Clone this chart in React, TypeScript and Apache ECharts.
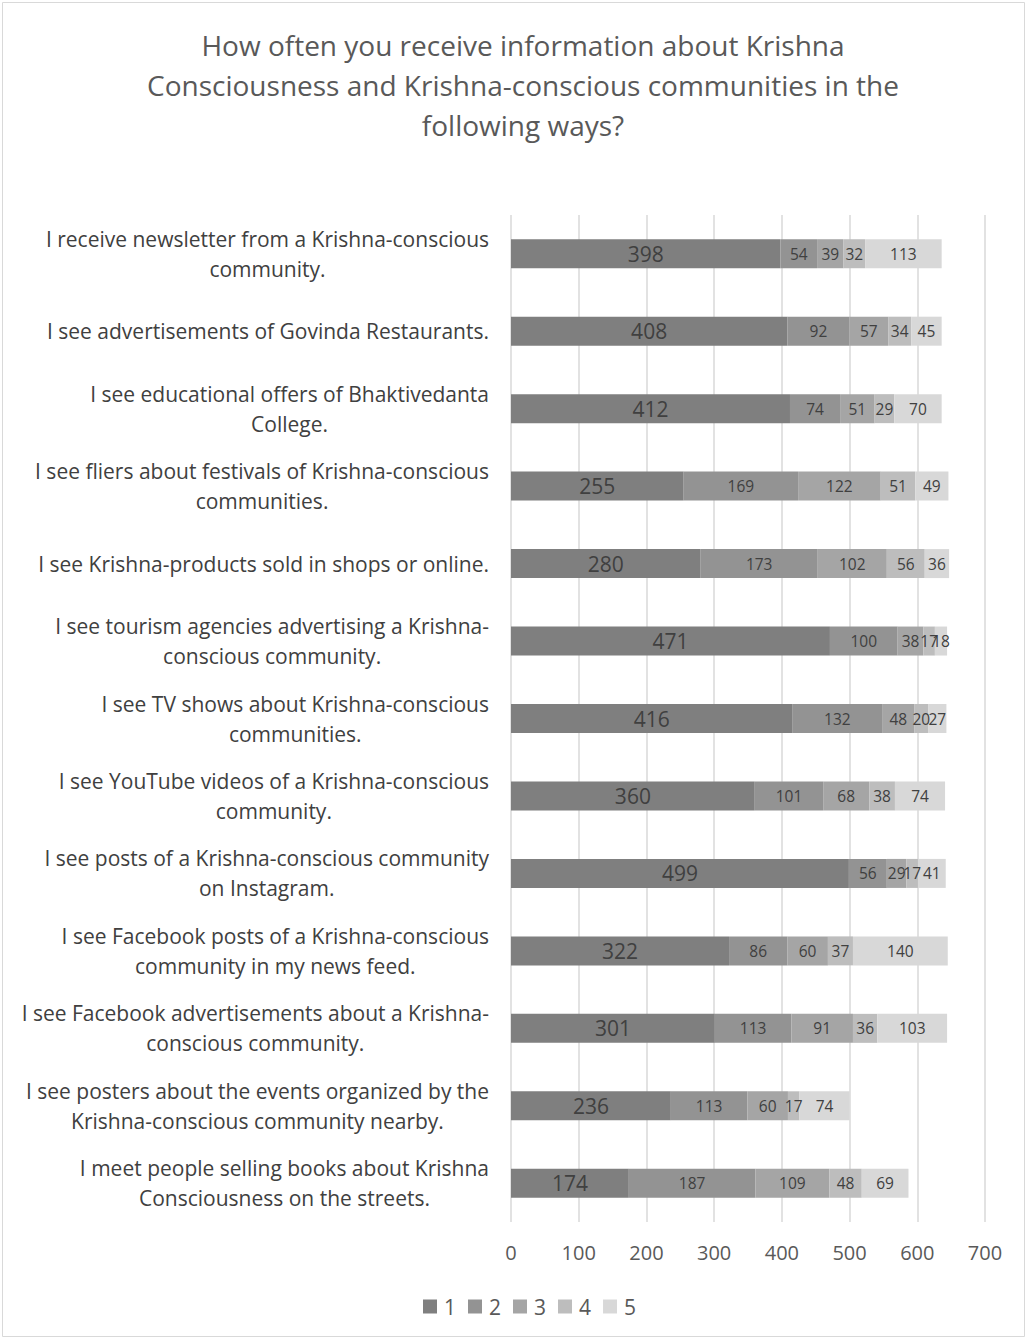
import React, { useEffect, useRef } from "react";
import * as echarts from "echarts";

const categories = [
  "I receive newsletter from a Krishna-conscious\ncommunity.",
  "I see advertisements of Govinda Restaurants.",
  "I see educational offers of Bhaktivedanta\nCollege.",
  "I see fliers about festivals of Krishna-conscious\ncommunities.",
  "I see Krishna-products sold in shops or online.",
  "I see tourism agencies advertising a Krishna-\nconscious community.",
  "I see TV shows about Krishna-conscious\ncommunities.",
  "I see YouTube videos of a Krishna-conscious\ncommunity.",
  "I see posts of a Krishna-conscious community\non Instagram.",
  "I see Facebook posts of a Krishna-conscious\ncommunity in my news feed.",
  "I see Facebook advertisements about a Krishna-\nconscious community.",
  "I see posters about the events organized by the\nKrishna-conscious community nearby.",
  "I meet people selling books about Krishna\nConsciousness on the streets.",
];

const series1 = [398, 408, 412, 255, 280, 471, 416, 360, 499, 322, 301, 236, 174];
const series2 = [54, 92, 74, 169, 173, 100, 132, 101, 56, 86, 113, 113, 187];
const series3 = [39, 57, 51, 122, 102, 38, 48, 68, 29, 60, 91, 60, 109];
const series4 = [32, 34, 29, 51, 56, 17, 20, 38, 17, 37, 36, 17, 48];
const series5 = [113, 45, 70, 49, 36, 18, 27, 74, 41, 140, 103, 74, 69];

const seriesNames = ["1", "2", "3", "4", "5"];
const seriesColors = ["#7f7f7f", "#939393", "#a5a5a5", "#bdbdbd", "#d8d8d8"];
const titleText =
  "How often you receive information about Krishna\nConsciousness and Krishna-conscious communities in the\nfollowing ways?";

const FONT = "Open Sans, Noto Sans, sans-serif";

export default function App() {
  const ref = useRef<HTMLDivElement>(null);
  useEffect(() => {
    document.body.style.margin = "0";
    const chart = echarts.init(ref.current!, null, { renderer: "svg" });
    const data = [series1, series2, series3, series4, series5];
    chart.setOption({
      animation: false,
      backgroundColor: "#ffffff",
      textStyle: { fontFamily: FONT },
      title: {
        text: titleText,
        left: 518,
        textAlign: "center",
        top: 20,
        textStyle: {
          fontSize: 28,
          fontWeight: "normal",
          color: "#595959",
          lineHeight: 40,
          fontFamily: FONT,
        },
      },
      graphic: [
        {
          type: "rect",
          shape: { x: 2.5, y: 2.5, width: 1022, height: 1334 },
          style: { fill: "none", stroke: "#d9d9d9", lineWidth: 1 },
          silent: true,
        },
      ],
      legend: {
        bottom: 18,
        left: 418,
        itemWidth: 14,
        itemHeight: 14,
        itemGap: 12,
        icon: "rect",
        textStyle: { fontSize: 21, color: "#595959", padding: [0, 0, 0, 2] },
        data: seriesNames,
      },
      grid: { left: 511, right: 44, top: 215, bottom: 118, containLabel: false },
      xAxis: {
        type: "value",
        min: 0,
        max: 700,
        interval: 100,
        axisLine: { show: false },
        axisTick: { show: false },
        splitLine: { lineStyle: { color: "#d9d9d9", width: 1.5 } },
        axisLabel: { fontSize: 20, color: "#595959", margin: 20 },
      },
      yAxis: {
        type: "category",
        inverse: true,
        data: categories,
        axisLine: { show: false },
        axisTick: { show: false },
        axisLabel: {
          fontSize: 21,
          color: "#404040",
          lineHeight: 30,
          margin: 22,
          align: "right",
          formatter: (v: string) =>
            v
              .split("\n")
              .map((s) => `{c|${s}}`)
              .join("\n"),
          rich: {
            c: {
              align: "center",
              fontSize: 21,
              color: "#404040",
              lineHeight: 30,
              fontFamily: FONT,
            },
          },
        },
      },
      series: data.map((d, i) => ({
        name: seriesNames[i],
        type: "bar",
        stack: "total",
        data: d,
        barWidth: 29,
        itemStyle: { color: seriesColors[i] },
        label: {
          show: true,
          position: "inside",
          fontSize: i === 0 ? 21 : 15.5,
          color: "#404040",
        },
      })),
    });
    return () => chart.dispose();
  }, []);
  return <div ref={ref} style={{ width: 1029, height: 1340 }} />;
}
